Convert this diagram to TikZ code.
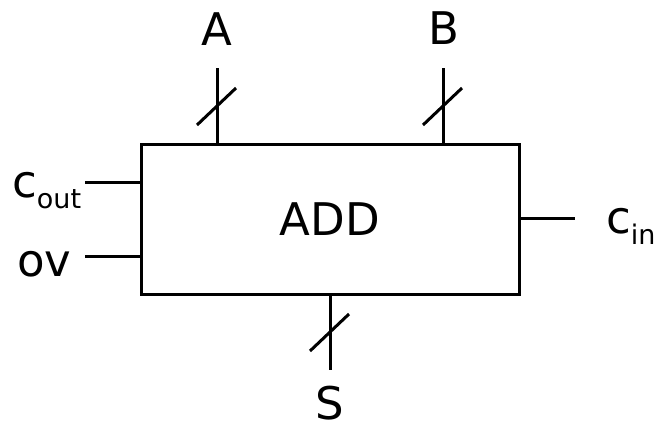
\documentclass[tikz,border=0pt]{standalone}
\usepackage{fontspec}
\setmainfont{DejaVu Sans}
\usetikzlibrary{calc}
\newcommand{\lowtext}[1]{\raisebox{-0.25em}{\fontsize{27}{29}\selectfont #1}}
\tikzset{
  wire/.style={draw=black,line width=3pt},
  block/.style={draw=black,line width=3pt,rectangle,minimum width=378pt,minimum height=150pt,inner sep=0pt,font=\fontsize{45}{50}\selectfont},
  lbl/.style={inner sep=0pt,font=\fontsize{45}{50}\selectfont}
}
\begin{document}
\begin{tikzpicture}[x=1pt,y=-1pt]
  \useasboundingbox (0,0) rectangle (658,429);
  \node[block] (add) at (330,219) {ADD};
  % pin ends
  \coordinate (aIn) at (217,144);
  \coordinate (aEnd) at (217,68);
  \coordinate (bIn) at (443,144);
  \coordinate (bEnd) at (443,68);
  \coordinate (sIn) at (330,294);
  \coordinate (sEnd) at (330,370);
  \coordinate (coIn) at (141,182);
  \coordinate (coEnd) at (85,182);
  \coordinate (ovIn) at (141,256);
  \coordinate (ovEnd) at (85,256);
  \coordinate (ciIn) at (519,218);
  \coordinate (ciEnd) at (575,218);
  \begin{scope}[every path/.style={wire}]
  \draw (aIn) -- (aEnd);
  \draw (bIn) -- (bEnd);
  \draw (sIn) -- (sEnd);
  \draw (coIn) -- (coEnd);
  \draw (ovIn) -- (ovEnd);
  \draw (ciIn) -- (ciEnd);
  % bus slashes
  \draw ([shift={(-20,19)}]$(aIn)!0.5!(aEnd)$) -- ([shift={(19,-18)}]$(aIn)!0.5!(aEnd)$);
  \draw ([shift={(-20,19)}]$(bIn)!0.5!(bEnd)$) -- ([shift={(19,-18)}]$(bIn)!0.5!(bEnd)$);
  \draw ([shift={(-20,19)}]$(sIn)!0.5!(sEnd)$) -- ([shift={(19,-18)}]$(sIn)!0.5!(sEnd)$);
  \end{scope}
  \node[lbl,anchor=base] (lblA) at (217,45) {A};
  \node[lbl,anchor=base] (lblB) at (444,44) {B};
  \node[lbl,anchor=base] (lblS) at (330,419) {S};
  \node[lbl,anchor=base west] (lblCo) at (12,197) {c\lowtext{out}};
  \node[lbl,anchor=base west] (lblOv) at (17,276) {ov};
  \node[lbl,anchor=base west] (lblCi) at (606,233) {c\lowtext{in}};
\end{tikzpicture}
\end{document}
